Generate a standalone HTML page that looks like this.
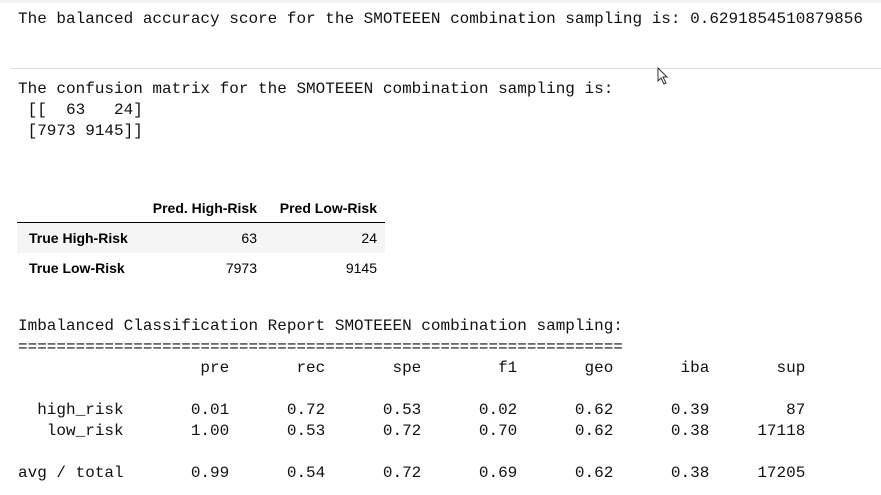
<!DOCTYPE html>
<html><head><meta charset="utf-8"><style>
body{margin:0;width:881px;height:495px;background:#fff;position:relative;overflow:hidden}
.t{position:absolute;left:18px;font-family:"Liberation Mono",monospace;font-size:16px;line-height:21px;white-space:pre;color:#111;margin:0}
table{position:absolute;left:17px;top:194px;border-collapse:collapse;font-family:"Liberation Sans",sans-serif;font-size:14px;color:#000;table-layout:fixed;width:368px}
th,td{padding:0 8px;height:30px;text-align:right;white-space:nowrap}
thead th{border-bottom:1px solid #000;height:28px;vertical-align:middle}
tbody th{text-align:left;padding-left:12px}
tbody tr:nth-child(1){background:#f5f5f5}
</style></head><body>
<div style="position:absolute;left:0;top:0;width:881px;height:3px;background:#f3f3f3"></div>
<pre class="t" style="top:9px">The balanced accuracy score for the SMOTEEEN combination sampling is: 0.6291854510879856</pre>
<div style="position:absolute;left:10px;top:68px;width:871px;height:1px;background:#ddd"></div>
<svg style="position:absolute;left:657px;top:67px" width="12" height="18"><path d="M1 1 L1 14 L4 11 L7 17 L9 16 L6 10 L10 10 Z" fill="#fff" stroke="#333" stroke-width="1"/></svg>
<pre class="t" style="top:79px">The confusion matrix for the SMOTEEEN combination sampling is:
 [[  63   24]
 [7973 9145]]</pre>
<table>
<colgroup><col style="width:123px"><col style="width:125px"><col style="width:120px"></colgroup>
<thead><tr><th></th><th>Pred. High-Risk</th><th>Pred Low-Risk</th></tr></thead>
<tbody>
<tr><th>True High-Risk</th><td>63</td><td>24</td></tr>
<tr><th>True Low-Risk</th><td>7973</td><td>9145</td></tr>
</tbody></table>
<pre class="t" style="top:316px">Imbalanced Classification Report SMOTEEEN combination sampling:
===============================================================
                   pre       rec       spe        f1       geo       iba       sup

  high_risk       0.01      0.72      0.53      0.02      0.62      0.39        87
   low_risk       1.00      0.53      0.72      0.70      0.62      0.38     17118

avg / total       0.99      0.54      0.72      0.69      0.62      0.38     17205</pre>
</body></html>
